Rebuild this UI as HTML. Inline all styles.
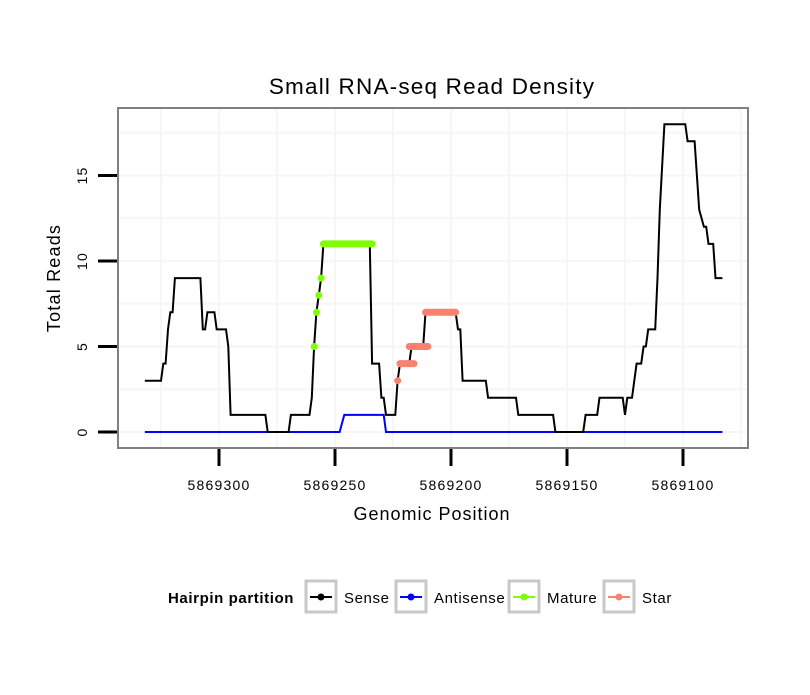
<!DOCTYPE html>
<html><head><meta charset="utf-8"><style>
body{margin:0;background:#fff;}
svg text{font-family:"Liberation Sans",sans-serif;}
</style></head><body>
<svg id="chart" width="810" height="690" xmlns="http://www.w3.org/2000/svg">
<rect width="810" height="690" fill="#fff"/>
<g id="grid"></g>
<g id="marks"></g>
<rect x="118" y="108" width="630" height="340" fill="none" stroke="#808080" stroke-width="2"/>
<g id="axes"></g>
<text x="432" y="94" font-size="22.5" letter-spacing="1.2" text-anchor="middle">Small RNA-seq Read Density</text>
<text x="432" y="520" font-size="18" letter-spacing="1" text-anchor="middle">Genomic Position</text>
<text transform="translate(60,278) rotate(-90)" font-size="18" letter-spacing="1.2" text-anchor="middle">Total Reads</text>
<g id="legend">
<text x="168" y="603" font-size="15" letter-spacing="0.6" font-weight="bold">Hairpin partition</text>
</g>
</svg>
<script>
const sensePos=[5869332,5869325,5869324,5869323,5869322,5869321,5869320,5869319,5869308,5869307,5869306,5869305,5869302,5869301,5869297,5869296,5869295,5869280,5869279,5869270,5869269,5869261,5869260,5869259,5869258,5869257,5869256,5869255,5869235,5869234,5869231,5869230,5869229,5869228,5869224,5869223,5869222,5869218,5869217,5869212,5869211,5869198,5869197,5869196,5869195,5869185,5869184,5869172,5869171,5869156,5869155,5869143,5869142,5869137,5869136,5869126,5869125,5869124,5869122,5869120,5869118,5869117,5869116,5869115,5869112,5869111,5869110,5869108,5869099,5869098,5869095,5869094,5869093,5869091,5869090,5869089,5869087,5869086,5869083];
const senseVal=[3,3,4,4,6,7,7,9,9,6,6,7,7,6,6,5,1,1,0,0,1,1,2,5,7,8,9,11,11,4,4,2,2,1,1,3,4,4,5,5,7,7,6,6,3,3,2,2,1,1,0,0,1,1,2,2,1,2,2,4,4,5,5,6,6,9,13,18,18,17,17,15,13,12,12,11,11,9,9];
const antiPos=[5869332,5869248,5869246,5869229,5869228,5869083];
const antiVal=[0,0,1,1,0,0];
const matureDotPos=[5869259,5869258,5869257,5869256];
const matureDotVal=[5,7,8,9];
const matureBarStart=[5869255];
const matureBarEnd=[5869234];
const matureBarVal=[11];
const starDotPos=[5869223];
const starDotVal=[3];
const starBarStart=[5869222,5869218,5869211];
const starBarEnd=[5869216,5869210,5869198];
const starBarVal=[4,5,7];
const xTicks=[5869300,5869250,5869200,5869150,5869100];
const yTicks=[0,5,10,15];
const xMinor=[5869325,5869275,5869225,5869175,5869125,5869075];
const yMinor=[2.5,7.5,12.5,17.5];

const NS='http://www.w3.org/2000/svg';
function X(p){return 219+(5869300-p)*2.32;}
function Y(v){return 432-v*17.1;}
function mk(tag,attrs,parent){const e=document.createElementNS(NS,tag);for(const k in attrs)e.setAttribute(k,attrs[k]);parent.appendChild(e);return e;}
const grid=document.getElementById('grid'),marks=document.getElementById('marks'),axes=document.getElementById('axes'),legend=document.getElementById('legend');
xMinor.concat(xTicks).forEach(p=>{const l=mk('line',{x1:X(p),x2:X(p),y1:109,y2:447,stroke:'#f6f6f6','stroke-width':2},grid);

});
yMinor.concat(yTicks).forEach(v=>{const l=mk('line',{x1:119,x2:747,y1:Y(v),y2:Y(v),stroke:'#f6f6f6','stroke-width':2},grid);

});
function path(ps,vs){return ps.map((p,i)=>(i?'L':'M')+X(p).toFixed(1)+','+Y(vs[i]).toFixed(1)).join('');}
const ap=mk('path',{d:path(antiPos,antiVal),fill:'none',stroke:'#0000ff','stroke-width':2},marks);


const sp=mk('path',{d:path(sensePos,senseVal),fill:'none',stroke:'#000','stroke-width':2},marks);


function bars(s,e,v,c,name){s.forEach((st,i)=>{const l=mk('line',{x1:X(st),x2:X(e[i]),y1:Y(v[i]),y2:Y(v[i]),stroke:c,'stroke-width':7,'stroke-linecap':'round'},marks);

});}
function dots(p,v,c,name){p.forEach((pp,i)=>{const d=mk('circle',{cx:X(pp),cy:Y(v[i]),r:3.5,fill:c},marks);

});}
bars(matureBarStart,matureBarEnd,matureBarVal,'#7fff00','mature-bar');
dots(matureDotPos,matureDotVal,'#7fff00','mature-point');
bars(starBarStart,starBarEnd,starBarVal,'#fa8072','star-bar');
dots(starDotPos,starDotVal,'#fa8072','star-point');
xTicks.forEach(p=>{const t=mk('line',{x1:X(p),x2:X(p),y1:449,y2:466,stroke:'#000','stroke-width':3},axes);


const tx=mk('text',{x:X(p),y:490,'font-size':14,'letter-spacing':1.2,'text-anchor':'middle'},axes);tx.textContent=p;

});
yTicks.forEach(v=>{const t=mk('line',{x1:98,x2:117,y1:Y(v),y2:Y(v),stroke:'#000','stroke-width':3},axes);


const tx=mk('text',{transform:'translate(87,'+Y(v)+') rotate(-90)','font-size':14,'letter-spacing':1.2,'text-anchor':'middle'},axes);tx.textContent=v;

});
const legNames=['Sense','Antisense','Mature','Star'];
const legColors=['#000','#0000ff','#7fff00','#fa8072'];
const legBoxX=[306,396,509,604];
legNames.forEach((n,i)=>{const g=mk('g',{},legend);


mk('rect',{x:legBoxX[i],y:581,width:30,height:31,fill:'#fff',stroke:'#c8c8c8','stroke-width':3},g);
mk('line',{x1:legBoxX[i]+4,x2:legBoxX[i]+26,y1:597,y2:597,stroke:legColors[i],'stroke-width':2},g);
mk('circle',{cx:legBoxX[i]+15,cy:597,r:3.5,fill:legColors[i]},g);
const t=mk('text',{x:legBoxX[i]+38,y:603,'font-size':15,'letter-spacing':0.6},g);t.textContent=n;});
</script>
</body></html>
